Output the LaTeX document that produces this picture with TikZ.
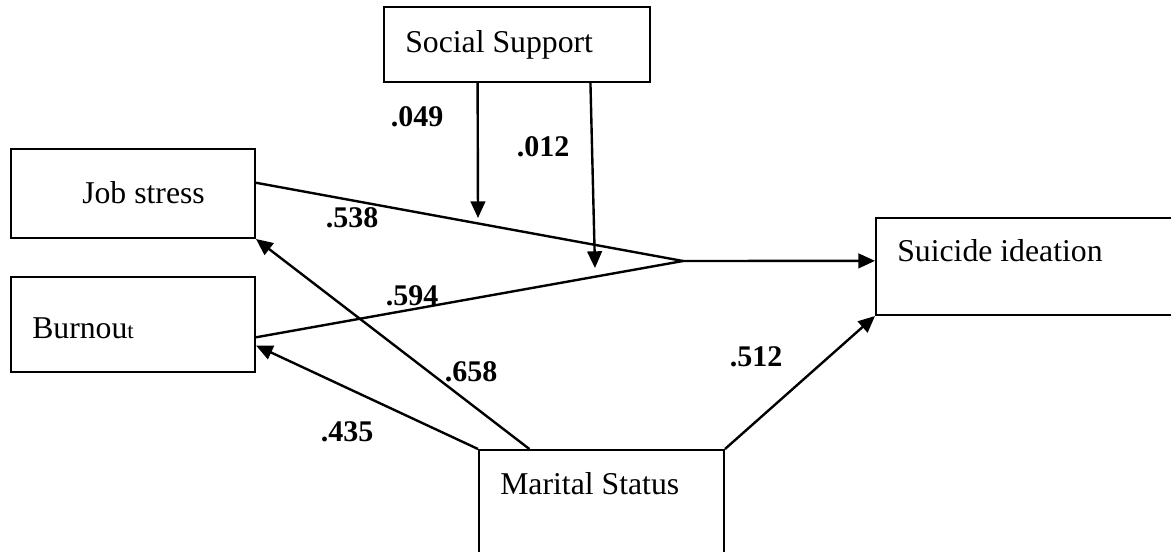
\documentclass[tikz,border=0pt]{standalone}
\usepackage{fontspec}
\setmainfont{Liberation Serif}
\usetikzlibrary{arrows.meta,calc}
\begin{document}
\begin{tikzpicture}[x=0.75pt,y=-0.75pt,
  box/.style={draw,line width=1.5pt,inner sep=0pt,fill=none},
  txt/.style={inner sep=0pt,anchor=base west,font=\fontsize{23.8}{28}\selectfont},
  num/.style={inner sep=0pt,font=\fontsize{22.5}{27}\selectfont\bfseries},
  conn/.style={line width=1.8pt},
  arr/.style={conn,-{Triangle[length=12.5pt,width=11pt]}}]
\useasboundingbox (0,0) rectangle (1171,552);
\fill[white] (0,0) rectangle (1171,552);
\clip (0,0) rectangle (1171,552);
% boxes
\node[box,minimum width=199.5pt,minimum height=56.25pt] (ss) at (517,44.5) {};
\node[box,minimum width=183pt,minimum height=66.75pt] (js) at (133,193.5) {};
\node[box,minimum width=183pt,minimum height=71.25pt] (bo) at (133,324.5) {};
\node[box,minimum width=243pt,minimum height=72.75pt] (si) at (1038,266.5) {};
\node[box,minimum width=183.75pt,minimum height=112.5pt] (ms) at (601.5,525) {};
% texts
\node[txt] (sst) at (405,53) {Social Support};
\node[txt] (jst) at (82,204) {Job stress};
\node[txt] (bot) at (32,339) {Burnou{\fontsize{17}{17}\selectfont t}};
\node[txt] (sit) at (897,262) {Suicide ideation};
\node[txt] (mst) at (500,494) {Marital Status};
% connectors
\coordinate (jn) at (683,261);
\coordinate (t1) at (478,218);
\coordinate (t2) at (595,268);
\draw[conn] ($(js.north east)!0.382!(js.south east)$) -- (jn);
\draw[conn] ($(bo.north east)!0.632!(bo.south east)$) -- (jn);
\draw[arr] (jn) -- ($(si.north west)!0.443!(si.south west)$);
\draw[arr] ($(ss.south west)!0.353!(ss.south east)$) -- (t1);
\draw[arr] ($(ss.south west)!0.774!(ss.south east)$) -- (t2);
\draw[arr] ($(ms.north west)!0.208!(ms.north east)$) -- (js.south east);
\draw[arr] (ms.north west) -- ($(bo.north east)!0.716!(bo.south east)$);
\draw[arr] (ms.north east) -- (si.south west);
% labels
\node[num] (l1) at (417,117) {.049};
\node[num] (l2) at (543,147) {.012};
\node[num] (l3) at (352,218) {.538};
\node[num] (l4) at (412,296) {.594};
\node[num] (l5) at (471,372) {.658};
\node[num] (l6) at (347,432) {.435};
\node[num] (l7) at (756,357) {.512};
\end{tikzpicture}
\end{document}
